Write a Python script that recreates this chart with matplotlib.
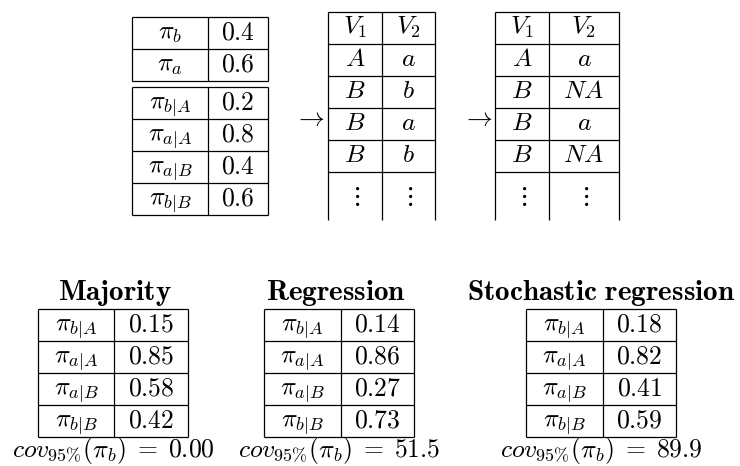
import matplotlib
matplotlib.use("Agg")
import matplotlib.pyplot as plt

plt.rcParams['mathtext.fontset'] = 'cm'
plt.rcParams['font.family'] = ['DejaVu Serif']

# ---------------- data ----------------
prior_labels = [r'\pi_b', r'\pi_a']
prior_values = ['0.4', '0.6']
cond_labels = [r'\pi_{b|A}', r'\pi_{a|A}', r'\pi_{a|B}', r'\pi_{b|B}']
cond_values = ['0.2', '0.8', '0.4', '0.6']
col_headers = ['V_1', 'V_2']
v1_values = ['A', 'B', 'B', 'B']
v2_complete = ['a', 'b', 'a', 'b']
v2_missing = ['a', 'NA', 'a', 'NA']
methods = ['Majority', 'Regression', 'Stochastic regression']
majority_values = ['0.15', '0.85', '0.58', '0.42']
regression_values = ['0.14', '0.86', '0.27', '0.73']
stochastic_values = ['0.18', '0.82', '0.41', '0.59']
coverage = ['0.00', '51.5', '89.9']

# ---------------- layout helpers ----------------
fig = plt.figure(figsize=(7.4, 4.66), dpi=100)
ax = fig.add_axes([0, 0, 1, 1])
ax.set_xlim(0, 740)
ax.set_ylim(466, 0)
ax.axis('off')

LW = 0.9
FS = 18.5


def draw_table(x_edges, y_top, row_h, rows, open_tail=None, fs=FS):
    n = len(rows)
    y_edges = [y_top + i * row_h for i in range(n + 1)]
    y_bottom = y_edges[-1] if open_tail is None else y_edges[-1] + open_tail
    for y in y_edges:
        ax.plot([x_edges[0], x_edges[-1]], [y, y], color='black', lw=LW,
                solid_capstyle='butt')
    for x in x_edges:
        ax.plot([x, x], [y_top, y_bottom], color='black', lw=LW,
                solid_capstyle='butt')
    for i, row in enumerate(rows):
        yc = y_top + (i + 0.5) * row_h
        for j, cell in enumerate(row):
            xc = (x_edges[j] + x_edges[j + 1]) / 2
            ax.text(xc, yc + 6, '$' + cell + '$', ha='center', va='baseline',
                    fontsize=fs)
    if open_tail is not None:
        yc = y_edges[-1] + open_tail / 2
        for j in range(len(x_edges) - 1):
            xc = (x_edges[j] + x_edges[j + 1]) / 2
            ax.text(xc, yc, r'$\vdots$', ha='center', va='center', fontsize=fs)


# top-left: priors and conditionals
draw_table([132, 208, 268], 17, 32, list(zip(prior_labels, prior_values)))
draw_table([132, 208, 268], 87, 32, list(zip(cond_labels, cond_values)))

# arrows
ax.text(309, 117, r'$\rightarrow$', ha='center', va='center', fontsize=FS)
ax.text(477, 117, r'$\rightarrow$', ha='center', va='center', fontsize=FS)

# complete data table
rows_complete = [col_headers] + [[a, b] for a, b in zip(v1_values, v2_complete)]
draw_table([328, 382, 435], 12, 32, rows_complete, open_tail=48)

# missing data table
rows_missing = [col_headers] + [[a, b] for a, b in zip(v1_values, v2_missing)]
draw_table([495, 549, 619], 12, 32, rows_missing, open_tail=48)

# bottom: imputation results
results = [majority_values, regression_values, stochastic_values]
bottom_cols = [[38, 114, 188], [264, 341, 414], [526, 603, 676]]
title_x = [115, 336, 601]
cov_x = [113, 339, 601]
for k, method in enumerate(methods):
    ax.text(title_x[k], 300, r'$\mathbf{' + method.replace(' ', r'\ ') + '}$',
            ha='center', va='baseline', fontsize=21)
    draw_table(bottom_cols[k], 309, 32, list(zip(cond_labels, results[k])))
    ax.text(cov_x[k], 457, r'$cov_{95\%}(\pi_b)\;=\;' + coverage[k] + '$',
            ha='center', va='baseline', fontsize=FS)

fig.savefig('out.png', dpi=100)
